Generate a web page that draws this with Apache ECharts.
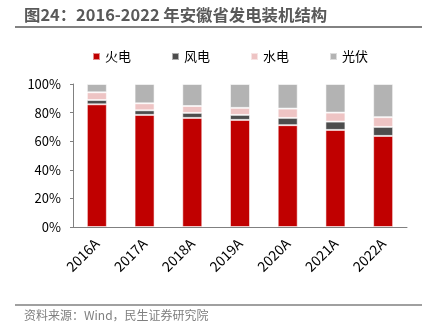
<!DOCTYPE html>
<html><head><meta charset="utf-8">
<script src="https://cdn.jsdelivr.net/npm/echarts@6/dist/echarts.min.js"></script>
<style>html,body{margin:0;padding:0;background:#fff}#c{width:429px;height:334px}</style>
</head><body><div id="c"></div>
<script>
const categories = ['2016A','2017A','2018A','2019A','2020A','2021A','2022A'];
const thermal = [85.8, 78.4, 76.3, 74.9, 71.2, 67.9, 63.7];
const wind    = [3.0, 3.2, 3.5, 3.5, 5.1, 5.8, 6.3];
const hydro   = [5.4, 4.9, 4.8, 4.9, 6.5, 6.3, 6.8];
const solar   = [5.8, 13.5, 15.4, 16.7, 17.2, 20.0, 23.2];
const yTicks = [0, 20, 40, 60, 80, 100];
const seriesNames = ['火电','风电','水电','光伏'];
const colors = ['#C00000','#4D4D4D','#EEC4C4','#B3B3B3'];
const titleText = '图24：2016-2022 年安徽省发电装机结构';
const sourceText = '资料来源：Wind，民生证券研究院';

const font = '"Noto Sans CJK SC","Microsoft YaHei",sans-serif';
const chart = echarts.init(document.getElementById('c'));
const mk = (name, data, i) => ({
  name, type: 'bar', stack: 'a', data, barWidth: 20,
  itemStyle: { color: colors[i], borderColor: 'rgba(255,255,255,0.55)', borderWidth: 1 }
});
chart.setOption({
  animation: false,
  textStyle: { fontFamily: font },
  graphic: [
    { type: 'text', left: 24, top: 7, style: { text: titleText, font: 'bold 16.4px ' + font, fill: '#595959' } },
    { type: 'line', shape: { x1: 15, y1: 27, x2: 422, y2: 27 }, style: { stroke: '#595959', lineWidth: 1.5 } },
    { type: 'line', shape: { x1: 15, y1: 305, x2: 422, y2: 305 }, style: { stroke: '#808080', lineWidth: 1.5 } },
    { type: 'text', left: 24, top: 309, style: { text: sourceText, font: '12px ' + font, fill: '#7f7f7f' } }
  ],
  legend: {
    data: seriesNames, left: 87, top: 45, itemWidth: 7, itemHeight: 7, itemGap: 40,
    icon: 'rect', textStyle: { fontSize: 13, color: '#000', fontFamily: font }
  },
  grid: { left: 73, right: 22, top: 84, bottom: 107 },
  xAxis: {
    type: 'category', data: categories,
    axisLine: { lineStyle: { color: '#808080' } },
    axisTick: { lineStyle: { color: '#808080' }, length: 4 },
    axisLabel: { rotate: 45, fontSize: 14, color: '#000', margin: 14, fontFamily: font }
  },
  yAxis: {
    type: 'value', min: yTicks[0], max: yTicks[yTicks.length - 1], interval: 20,
    axisLine: { show: true, lineStyle: { color: '#808080' } },
    axisTick: { show: true, length: 3, lineStyle: { color: '#808080' } },
    splitLine: { show: false },
    axisLabel: { formatter: '{value}%', fontSize: 13, color: '#000', margin: 12, fontFamily: font }
  },
  series: [mk(seriesNames[0], thermal, 0), mk(seriesNames[1], wind, 1), mk(seriesNames[2], hydro, 2), mk(seriesNames[3], solar, 3)]
});
</script></body></html>
